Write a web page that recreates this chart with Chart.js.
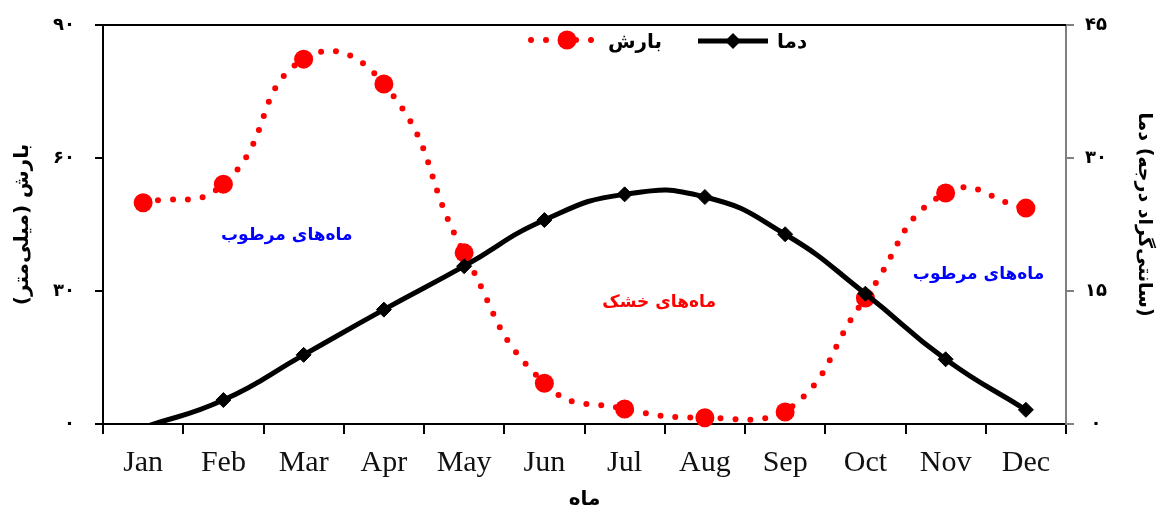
<!DOCTYPE html>
<html>
<head>
<meta charset="utf-8">
<script src="https://cdn.jsdelivr.net/npm/chart.js@4.4.1/dist/chart.umd.min.js"></script>
<style>
    body { margin: 0; background: #fff; }
    #wrap { width: 1158px; height: 508px; }
</style>
</head>
<body>
<div id="wrap"><canvas id="climateChart" width="1158" height="508"></canvas></div>
<script>
const months = ['Jan', 'Feb', 'Mar', 'Apr', 'May', 'Jun', 'Jul', 'Aug', 'Sep', 'Oct', 'Nov', 'Dec'];
const precipitation = [49.9, 54.1, 82.3, 76.7, 38.6, 9.2, 3.4, 1.4, 2.7, 28.4, 52.1, 48.7];
const temperature = [-0.4, 2.7, 7.8, 12.9, 17.8, 23.0, 25.9, 25.6, 21.4, 14.7, 7.3, 1.6];
const precipTicks = ['۰', '۳۰', '۶۰', '۹۰'];
const tempTicks = ['۰', '۱۵', '۳۰', '۴۵'];

const persianFont = "'DejaVu Sans', sans-serif";

// legend, top frame line, right axis title and the wet / dry month notes
const overlayPlugin = {
    id: 'overlay',
    afterDraw(chart) {
        const { ctx, chartArea: a, scales } = chart;
        ctx.save();

        // top frame
        ctx.strokeStyle = '#000';
        ctx.lineWidth = 2;
        ctx.beginPath();
        ctx.moveTo(a.left, a.top);
        ctx.lineTo(a.right, a.top);
        ctx.stroke();

        // legend: precipitation sample
        ctx.strokeStyle = '#ff0000';
        ctx.lineWidth = 6;
        ctx.lineCap = 'round';
        ctx.setLineDash([0, 15]);
        ctx.beginPath();
        ctx.moveTo(531, 40);
        ctx.lineTo(600, 40);
        ctx.stroke();
        ctx.setLineDash([]);
        ctx.fillStyle = '#ff0000';
        ctx.beginPath();
        ctx.arc(567, 40, 9.5, 0, Math.PI * 2);
        ctx.fill();

        // legend: temperature sample
        ctx.strokeStyle = '#000';
        ctx.lineWidth = 5;
        ctx.lineCap = 'butt';
        ctx.beginPath();
        ctx.moveTo(698, 41);
        ctx.lineTo(768, 41);
        ctx.stroke();
        ctx.fillStyle = '#000';
        ctx.beginPath();
        ctx.moveTo(733 - 8, 41);
        ctx.lineTo(733, 41 - 8);
        ctx.lineTo(733 + 8, 41);
        ctx.lineTo(733, 41 + 8);
        ctx.closePath();
        ctx.fill();

        ctx.font = 'bold 20px ' + persianFont;
        ctx.textBaseline = 'middle';
        ctx.textAlign = 'left';
        ctx.fillStyle = '#000';
        ctx.fillText('بارش', 608, 43);
        ctx.fillText('دما', 777, 43);

        // right axis title, rotated clockwise, read from the top
        const parts = ['دما', ' (', 'درجه', ' ', 'سانتی‌گراد', ')'];
        ctx.font = 'bold 19px ' + persianFont;
        const total = parts.reduce((w, p) => w + ctx.measureText(p).width, 0);
        ctx.translate(1144, (a.top + a.bottom) / 2 - 10);
        ctx.rotate(Math.PI / 2);
        let px = -total / 2;
        parts.forEach(p => {
            ctx.fillText(p, px, 0);
            px += ctx.measureText(p).width;
        });
        ctx.setTransform(1, 0, 0, 1, 0, 0);

        // notes placed in data units
        const x = scales.x, y = scales.y;
        ctx.font = 'bold 17px ' + persianFont;
        ctx.textAlign = 'center';
        ctx.fillStyle = '#0000ff';
        ctx.fillText('ماه‌های مرطوب', x.getPixelForValue(1.79), y.getPixelForValue(42.6));
        ctx.fillText('ماه‌های مرطوب', x.getPixelForValue(10.41), y.getPixelForValue(33.6));
        ctx.fillStyle = '#ff0000';
        ctx.fillText('ماه‌های خشک', x.getPixelForValue(6.43), y.getPixelForValue(27.3));

        ctx.restore();
    }
};

// fixed axis sizes so the plot box lands where the original has it
function fitY(width) {
    return s => {
        s.width = width;
        s.paddingTop = 0;
        s.paddingBottom = 0;
    };
}

const ctx = document.getElementById('climateChart');

new Chart(ctx, {
    type: 'line',
    data: {
        labels: months,
        datasets: [{
            label: 'دما',
            data: temperature,
            yAxisID: 'y1',
            borderColor: '#000',
            borderWidth: 5,
            tension: 0.5,
            pointStyle: 'rectRot',
            pointRadius: c => (c.raw < 0 ? 0 : 7.5),
            pointBackgroundColor: '#000',
            pointBorderColor: '#000',
            pointBorderWidth: 1
        }, {
            label: 'بارش',
            data: precipitation,
            yAxisID: 'y',
            borderColor: '#ff0000',
            borderWidth: 6,
            borderDash: [0, 15],
            borderCapStyle: 'round',
            tension: 0.5,
            clip: false,
            pointStyle: 'circle',
            pointRadius: 9.5,
            pointBackgroundColor: '#ff0000',
            pointBorderColor: '#ff0000',
            pointBorderWidth: 0
        }]
    },
    options: {
        responsive: false,
        animation: false,
        layout: { padding: { top: 25, left: 0, right: 0, bottom: 0 } },
        plugins: {
            legend: { display: false },
            tooltip: { enabled: false }
        },
        scales: {
            x: {
                offset: true,
                afterFit: s => {
                    s.height = 84;
                    s.paddingLeft = 0;
                    s.paddingRight = 0;
                },
                grid: {
                    offset: true,
                    drawOnChartArea: false,
                    tickLength: 10,
                    color: '#000',
                    lineWidth: 2
                },
                border: { display: true, color: '#000', width: 2 },
                ticks: {
                    padding: 11,
                    color: '#111',
                    font: { family: "'Liberation Serif', serif", size: 30 }
                },
                title: {
                    display: true,
                    text: 'ماه',
                    color: '#000',
                    padding: { top: 0, bottom: -4 },
                    font: { family: persianFont, size: 20, weight: 'bold' }
                }
            },
            y: {
                position: 'left',
                min: 0,
                max: 90,
                afterFit: fitY(103),
                afterBuildTicks: s => { s.ticks = [0, 30, 60, 90].map(v => ({ value: v })); },
                grid: {
                    drawOnChartArea: false,
                    tickLength: 8,
                    color: '#000',
                    lineWidth: 2
                },
                border: { display: true, color: '#000', width: 2 },
                ticks: {
                    padding: 20,
                    color: '#000',
                    font: { family: persianFont, size: 18, weight: 'bold' },
                    callback: (v, i) => precipTicks[i]
                },
                title: {
                    display: true,
                    text: '\u200Fبارش (میلی‌متر)\u200F',
                    color: '#000',
                    padding: { top: 11, bottom: 0 },
                    font: { family: persianFont, size: 20, weight: 'bold' }
                }
            },
            y1: {
                position: 'right',
                min: 0,
                max: 45,
                afterFit: fitY(92),
                afterBuildTicks: s => { s.ticks = [0, 15, 30, 45].map(v => ({ value: v })); },
                grid: {
                    drawOnChartArea: false,
                    tickLength: 8,
                    color: '#808080',
                    lineWidth: 2
                },
                border: { display: true, color: '#808080', width: 2 },
                ticks: {
                    padding: 11,
                    crossAlign: 'center',
                    color: '#000',
                    font: { family: persianFont, size: 18, weight: 'bold' },
                    callback: (v, i) => tempTicks[i]
                },
                title: { display: false }
            }
        }
    },
    plugins: [overlayPlugin]
});
</script>
</body>
</html>
